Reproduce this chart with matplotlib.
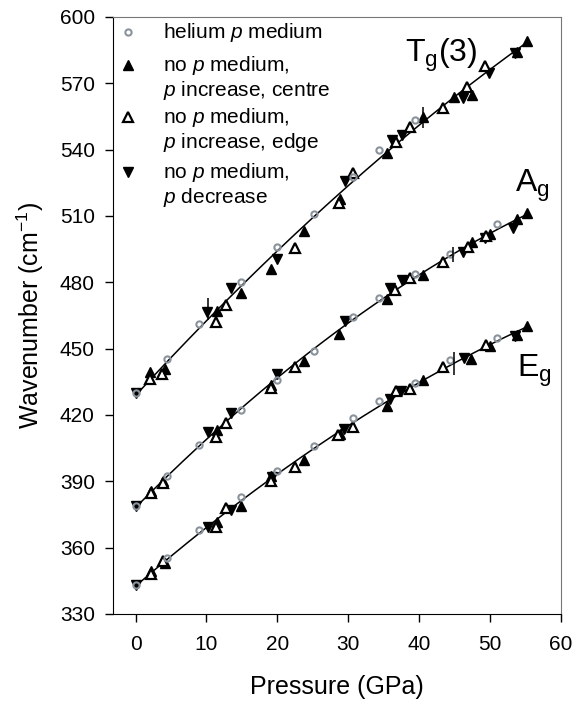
import numpy as np
import matplotlib
matplotlib.use('Agg')
import matplotlib.pyplot as plt

plt.rcParams['font.family'] = ['Liberation Sans', 'DejaVu Sans']
plt.rcParams['mathtext.fontset'] = 'custom'
plt.rcParams['mathtext.rm'] = 'Liberation Sans'
plt.rcParams['mathtext.it'] = 'Liberation Sans:italic'

# ---- data: (pressure GPa, wavenumber cm-1) ----
# Tg(3) mode
tg_he_p = [0, 4.4, 8.9, 14.8, 20.0, 25.1, 30.7, 34.4, 39.4]
tg_he_w = [430, 445.4, 461, 480, 496, 511, 527.4, 540, 553.4]
tg_ic_p = [2.1, 4.2, 11.5, 14.8, 19.1, 23.8, 28.8, 35.5, 40.6, 44.9, 47.4, 53.8, 55.2]
tg_ic_w = [439.6, 440.9, 467, 475.1, 486, 503.2, 517.5, 538.3, 554.9, 563.6, 564.7, 584, 588.9]
tg_ie_p = [2.1, 3.7, 11.4, 12.8, 22.5, 28.7, 30.7, 36.8, 38.7, 43.3, 46.7, 49.3]
tg_ie_w = [436.3, 438.6, 462, 469.6, 495.5, 516, 529.5, 543.6, 550.3, 558.6, 568.2, 577.6]
tg_de_p = [0, 10.1, 13.5, 20.0, 29.6, 36.2, 37.6, 46.2, 49.9, 53.5]
tg_de_w = [430, 466.5, 477.6, 490.7, 525.9, 544.4, 546.6, 563.2, 574.6, 583.5]

# Ag mode
ag_he_p = [0, 4.4, 8.9, 14.8, 20.0, 25.1, 30.7, 34.4, 39.4, 44.3, 51.0]
ag_he_w = [379, 392.2, 406.4, 422.3, 435.6, 448.9, 464.3, 473, 483.6, 492.7, 506.3]
ag_ic_p = [2.2, 3.8, 11.5, 19.1, 23.8, 28.7, 35.4, 40.6, 47.4, 50.0, 53.8, 55.2]
ag_ic_w = [385.7, 390.3, 413.2, 433.6, 444.3, 456.4, 472.6, 483.1, 498.3, 502, 508.8, 511.1]
ag_ie_p = [2.2, 3.8, 11.4, 12.8, 19.1, 22.5, 36.6, 38.7, 43.4, 46.9, 49.4]
ag_ie_w = [384.5, 389, 410.2, 416.2, 432.3, 441.6, 476.7, 482.1, 489.2, 496, 500.8]
ag_de_p = [0, 10.2, 13.5, 19.9, 29.6, 35.9, 37.6, 46.2, 49.3, 53.3]
ag_de_w = [379, 412.2, 420.8, 438.3, 462.5, 477.6, 480.9, 493.7, 499.8, 504.3]

# Eg mode
eg_he_p = [0, 4.4, 8.9, 14.8, 20.0, 25.1, 30.7, 34.4, 39.4, 44.3, 51.0]
eg_he_w = [343.1, 355.2, 368.1, 382.7, 394.8, 406.1, 418.6, 426.3, 434.4, 444.8, 454.9]
eg_ic_p = [2.2, 4.2, 11.5, 14.8, 19.1, 23.8, 28.9, 35.5, 40.6, 47.3, 50.0, 53.8, 55.2]
eg_ic_w = [349.5, 352.8, 371.4, 378.9, 392.5, 399.8, 411.4, 423.8, 435.6, 445.4, 451.2, 456, 460]
eg_ie_p = [2.2, 3.8, 11.4, 12.8, 19.1, 22.5, 28.6, 30.7, 36.7, 38.7, 43.3, 49.4]
eg_ie_w = [348, 354, 369.1, 377.7, 390.3, 396.3, 411, 414.5, 431, 431.8, 441.6, 451.6]
eg_de_p = [0, 10.2, 13.5, 19.2, 29.4, 35.9, 37.4, 46.3, 53.5]
eg_de_w = [343.1, 369.1, 377, 392, 413.7, 427.3, 431, 445.8, 455.5]

# short vertical marks on the curves
vmark_p = [10.2, 40.6, 44.8, 44.9]
vmark_lo = [462.9, 549.6, 489.3, 438.0]
vmark_hi = [472.9, 559.3, 496.0, 448.6]

modes = [
    (tg_he_p, tg_he_w, tg_ic_p, tg_ic_w, tg_ie_p, tg_ie_w, tg_de_p, tg_de_w),
    (ag_he_p, ag_he_w, ag_ic_p, ag_ic_w, ag_ie_p, ag_ie_w, ag_de_p, ag_de_w),
    (eg_he_p, eg_he_w, eg_ic_p, eg_ic_w, eg_ie_p, eg_ie_w, eg_de_p, eg_de_w),
]

HE_COL = '#8a939c'

fig = plt.figure(figsize=(5.73, 7.04), dpi=100)
ax = fig.add_axes([0.197, 0.128, 0.782, 0.848])

for hp, hw, cp, cw, ep, ew, dp, dw in modes:
    # fitted curve through all points of this mode
    allp = np.concatenate([hp, cp, ep, dp])
    allw = np.concatenate([hw, cw, ew, dw])
    coef = np.polyfit(allp, allw, 2)
    xx = np.linspace(0, max(allp), 200)
    ax.plot(xx, np.polyval(coef, xx), color='black', lw=1.1, zorder=1)

    ax.plot(dp, dw, 'v', color='black', ms=7.5, mec='black', zorder=2)
    ax.plot(cp, cw, '^', color='black', ms=7.5, mec='black', zorder=3)
    ax.plot(ep, ew, '^', mfc='white', mec='black', mew=1.6, ms=6.5, zorder=4)
    ax.plot(hp, hw, 'o', mfc='none', mec=HE_COL, mew=1.5, ms=4.5, zorder=5)

ax.vlines(vmark_p, vmark_lo, vmark_hi, color='black', lw=1.1, zorder=6)

ax.set_xlim(-3.2, 60)
ax.set_ylim(330, 600)
ax.set_xticks(np.arange(0, 61, 10))
ax.set_yticks(np.arange(330, 601, 30))
ax.tick_params(direction='out', length=6, width=1, labelsize=15, pad=7)
ax.tick_params(axis='x', pad=9)
for s in ['top', 'right']:
    ax.spines[s].set_color('#777777')
ax.set_xlabel('Pressure (GPa)', fontsize=18, labelpad=15)
ax.set_ylabel('Wavenumber (cm$^{-1}$)', fontsize=18, labelpad=10)

# legend, drawn by hand so markers sit on the first text line
leg_marks = [('o', HE_COL, 'none', 0.974), ('^', 'black', 'black', 0.919),
             ('^', 'black', 'white', 0.832), ('v', 'black', 'black', 0.740)]
for m, ec, fc, y in leg_marks:
    if m == 'o':
        ax.plot([0.034], [y], m, mfc=fc, mec=ec, mew=1.5, ms=4.5, transform=ax.transAxes)
    elif fc == 'white':
        ax.plot([0.034], [y], m, mfc=fc, mec=ec, mew=1.6, ms=6.5, transform=ax.transAxes)
    else:
        ax.plot([0.034], [y], m, mfc=fc, mec=ec, ms=7.5, transform=ax.transAxes)

leg_lines = [('helium $p$ medium', 0.974), ('no $p$ medium,', 0.919),
             ('$p$ increase, centre', 0.877), ('no $p$ medium,', 0.832),
             ('$p$ increase, edge', 0.790), ('no $p$ medium,', 0.740),
             ('$p$ decrease', 0.698)]
for t, y in leg_lines:
    ax.text(0.112, y, t, transform=ax.transAxes, fontsize=15, va='center', ha='left')

ax.text(0.652, 0.924, 'T$_\\mathrm{g}$(3)', transform=ax.transAxes, fontsize=23, va='baseline')
ax.text(0.897, 0.7065, 'A$_\\mathrm{g}$', transform=ax.transAxes, fontsize=23, va='baseline')
ax.text(0.902, 0.397, 'E$_\\mathrm{g}$', transform=ax.transAxes, fontsize=23, va='baseline')

fig.savefig('out.png', dpi=100)
